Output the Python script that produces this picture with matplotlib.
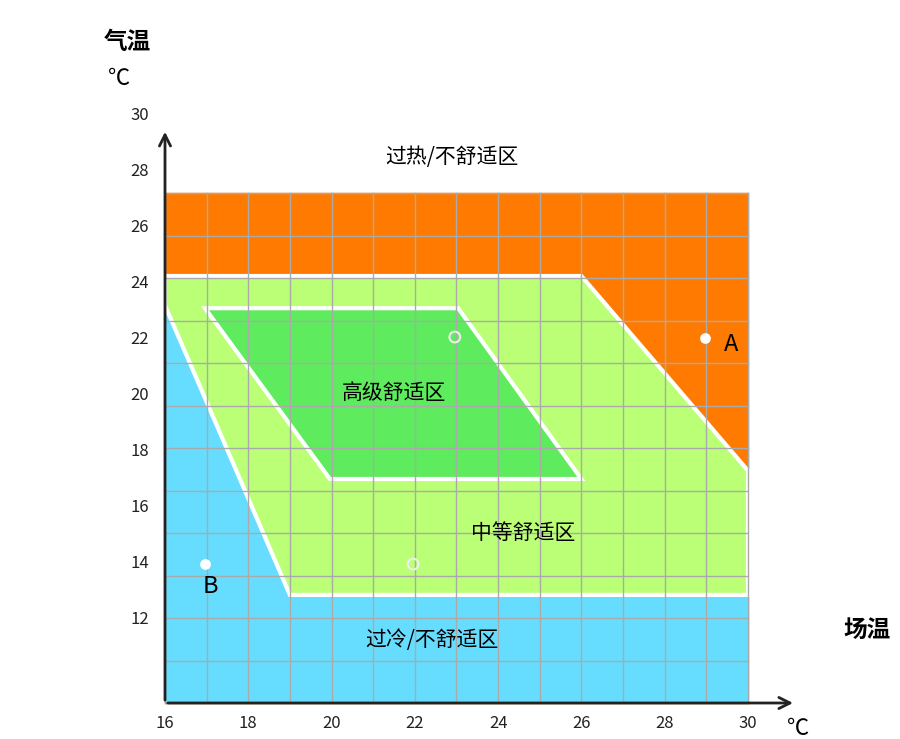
import matplotlib
matplotlib.use('Agg')
import matplotlib.pyplot as plt
import numpy as np
from matplotlib.patches import Polygon, Rectangle

plt.rcParams['font.family'] = ['Noto Sans CJK SC', 'DejaVu Sans']

# data (degrees)
x_ticks = [16, 18, 20, 22, 24, 26, 28, 30]
y_ticks = [12, 14, 16, 18, 20, 22, 24, 26, 28, 30]
box_top = 27.2
box_bottom = 9.0
blue_zone = [(16, 23.2), (19.0, 12.86), (30, 12.86), (30, 9.0), (16, 9.0)]
mid_zone = [(16, 24.25), (26.0, 24.25), (30, 17.3), (30, 12.86), (19.0, 12.86), (16, 23.2)]
high_zone = [(16.96, 23.1), (23.04, 23.1), (26.0, 17.0), (19.96, 17.0)]
points = {'A': (28.97, 22.04), 'B': (16.96, 13.96)}
faint_points = [(22.96, 22.07), (21.96, 13.96)]

fig = plt.figure(figsize=(9, 7.39), dpi=100)
ax = fig.add_axes([0, 0, 1, 1])
px = 41.64
ax.set_xlim(16 - 165 / px, 16 + (900 - 165) / px)
ax.set_ylim(12 - 120 / 28, 12 + 619 / 28)
ax.axis('off')

ax.add_patch(Rectangle((16, box_bottom), 14, box_top - box_bottom, color='#FF7A00', zorder=1))
ax.add_patch(Polygon(blue_zone, closed=True, fc='#66DDFF', ec='none', zorder=2))
ax.add_patch(Polygon(mid_zone, closed=True, fc='#BBFF77', ec='white', lw=3, zorder=3))
ax.add_patch(Polygon(high_zone, closed=True, fc='#5EEB5E', ec='white', lw=3, zorder=4))

# grid
for gx in np.arange(16, 30.01, 1):
    ax.plot([gx, gx], [box_bottom, box_top], color='#AAAAAA', lw=1, zorder=5)
for gy in np.linspace(box_bottom, box_top, 13):
    ax.plot([16, 30], [gy, gy], color='#AAAAAA', lw=1, zorder=5)

# axes arrows
ax.annotate('', xy=(16, 29.5), xytext=(16, box_bottom),
            arrowprops=dict(arrowstyle='->', color='#222222', lw=2, mutation_scale=20), zorder=6)
ax.annotate('', xy=(31.15, box_bottom), xytext=(16, box_bottom),
            arrowprops=dict(arrowstyle='->', color='#222222', lw=2, mutation_scale=20), zorder=6)

for t in x_ticks:
    ax.text(t, 8.25, str(t), ha='center', va='center', fontsize=12, color='#222222')
for t in y_ticks:
    ax.text(15.4, t, str(t), ha='center', va='center', fontsize=12, color='#222222')

ax.text(15.1, 32.6, '气温', ha='center', va='center', fontsize=17, fontweight='bold')
ax.text(14.9, 31.3, '℃', ha='center', va='center', fontsize=16)
ax.text(32.85, 11.6, '场温', ha='center', va='center', fontsize=17, fontweight='bold')
ax.text(31.2, 8.1, '℃', ha='center', va='center', fontsize=16)

ax.text(22.9, 28.5, '过热/不舒适区', ha='center', va='center', fontsize=15)
ax.text(21.5, 20.07, '高级舒适区', ha='center', va='center', fontsize=15, zorder=7)
ax.text(24.6, 15.07, '中等舒适区', ha='center', va='center', fontsize=15, zorder=7)
ax.text(22.4, 11.25, '过冷/不舒适区', ha='center', va='center', fontsize=15, zorder=7)

for name, (x, y) in points.items():
    ax.scatter([x], [y], s=45, color='white', zorder=8)
for x, y in faint_points:
    ax.scatter([x], [y], s=60, facecolor='none', edgecolor='#EEEEEE', lw=1.5, zorder=8)
ax.text(29.6, 21.8, 'A', ha='center', va='center', fontsize=17, zorder=8)
ax.text(17.08, 13.15, 'B', ha='center', va='center', fontsize=17, zorder=8)

fig.savefig('out.png', dpi=100)
